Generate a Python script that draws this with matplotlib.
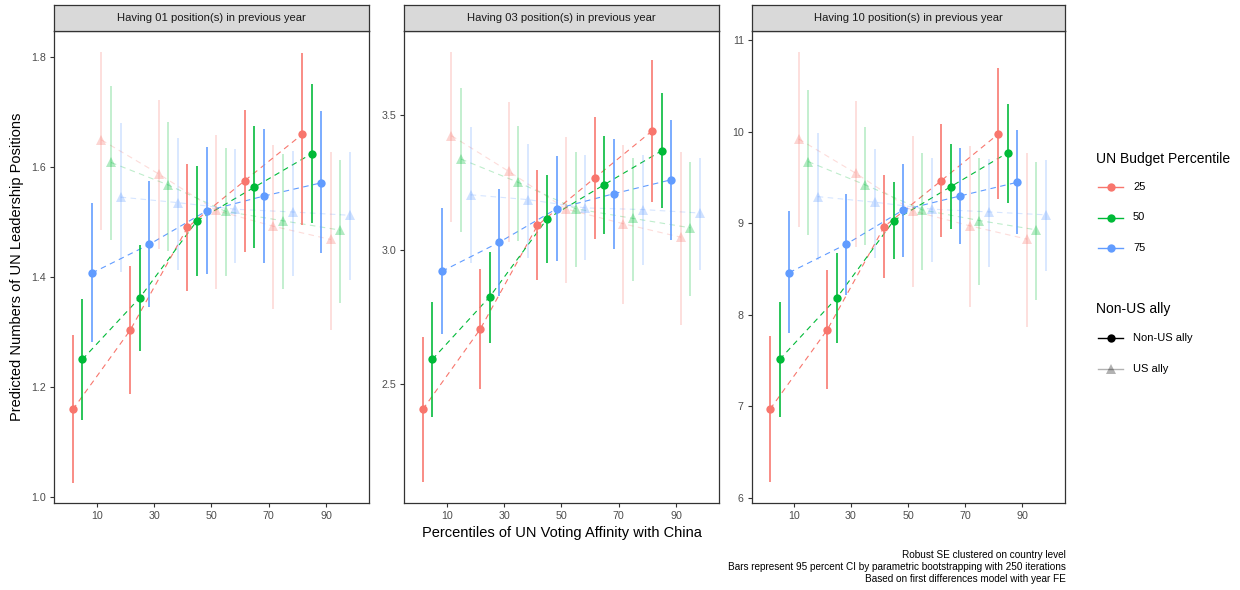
import numpy as np
import matplotlib
matplotlib.use("Agg")
import matplotlib.pyplot as plt
from matplotlib.lines import Line2D

plt.rcParams['font.family'] = ['Liberation Sans', 'DejaVu Sans']

# ---------------- data ----------------
budget_levels = ["25", "50", "75"]
affinity = [10, 30, 50, 70, 90]
x_ticks = [10, 30, 50, 70, 90]
panel_titles = ["Having 01 position(s) in previous year",
                "Having 03 position(s) in previous year",
                "Having 10 position(s) in previous year"]
ally_levels = ["Non-US ally", "US ally"]

# rows: budget 25, 50, 75 ; columns: affinity 10..90
p1_non_est = [[1.159, 1.303, 1.490, 1.575, 1.659],
              [1.250, 1.362, 1.502, 1.563, 1.624],
              [1.407, 1.459, 1.520, 1.547, 1.571]]
p1_non_lo = [[1.026, 1.188, 1.375, 1.445, 1.494],
             [1.139, 1.265, 1.401, 1.452, 1.498],
             [1.282, 1.345, 1.405, 1.425, 1.443]]
p1_non_hi = [[1.294, 1.420, 1.606, 1.703, 1.807],
             [1.359, 1.458, 1.602, 1.674, 1.750],
             [1.535, 1.574, 1.636, 1.668, 1.701]]
p1_us_est = [[1.649, 1.587, 1.521, 1.492, 1.468],
             [1.608, 1.567, 1.519, 1.502, 1.485],
             [1.545, 1.535, 1.523, 1.518, 1.512]]
p1_us_lo = [[1.486, 1.450, 1.378, 1.341, 1.304],
            [1.467, 1.447, 1.401, 1.378, 1.352],
            [1.409, 1.413, 1.425, 1.401, 1.395]]
p1_us_hi = [[1.809, 1.721, 1.658, 1.639, 1.627],
            [1.747, 1.682, 1.635, 1.623, 1.613],
            [1.680, 1.653, 1.633, 1.629, 1.627]]

p2_non_est = [[2.405, 2.703, 3.090, 3.267, 3.442],
              [2.591, 2.824, 3.114, 3.242, 3.368],
              [2.919, 3.027, 3.152, 3.208, 3.260]]
p2_non_lo = [[2.136, 2.482, 2.885, 3.040, 3.176],
             [2.378, 2.653, 2.950, 3.058, 3.155],
             [2.684, 2.826, 2.957, 3.003, 3.037]]
p2_non_hi = [[2.674, 2.926, 3.297, 3.493, 3.706],
             [2.804, 2.991, 3.276, 3.424, 3.583],
             [3.155, 3.227, 3.349, 3.411, 3.483]]
p2_us_est = [[3.424, 3.291, 3.151, 3.096, 3.046],
             [3.337, 3.250, 3.152, 3.116, 3.081],
             [3.204, 3.186, 3.155, 3.149, 3.136]]
p2_us_lo = [[3.101, 3.027, 2.874, 2.799, 2.719],
            [3.066, 3.031, 2.936, 2.882, 2.826],
            [2.950, 2.969, 2.960, 2.941, 2.922]]
p2_us_hi = [[3.737, 3.551, 3.421, 3.388, 3.362],
            [3.601, 3.461, 3.363, 3.341, 3.326],
            [3.455, 3.393, 3.351, 3.351, 3.341]]

p3_non_est = [[6.972, 7.836, 8.963, 9.465, 9.974],
              [7.513, 8.185, 9.029, 9.399, 9.770],
              [8.461, 8.771, 9.145, 9.298, 9.447]]
p3_non_lo = [[6.176, 7.190, 8.400, 8.854, 9.262],
             [6.885, 7.698, 8.607, 8.935, 9.225],
             [7.800, 8.218, 8.636, 8.771, 8.877]]
p3_non_hi = [[7.771, 8.491, 9.527, 10.080, 10.690],
             [8.138, 8.673, 9.447, 9.862, 10.305],
             [9.134, 9.320, 9.647, 9.824, 10.019]]
p3_us_est = [[9.919, 9.545, 9.134, 8.971, 8.826],
             [9.672, 9.418, 9.145, 9.029, 8.927],
             [9.290, 9.229, 9.153, 9.123, 9.091]]
p3_us_lo = [[8.956, 8.738, 8.309, 8.084, 7.862],
            [8.872, 8.763, 8.491, 8.327, 8.163],
            [8.600, 8.618, 8.575, 8.527, 8.473]]
p3_us_hi = [[10.871, 10.337, 9.952, 9.847, 9.770],
            [10.454, 10.053, 9.770, 9.709, 9.665],
            [9.981, 9.810, 9.709, 9.698, 9.690]]

y_ticks = [[1.0, 1.2, 1.4, 1.6, 1.8], [2.5, 3.0, 3.5], [6, 7, 8, 9, 10, 11]]
y_ticklabels = [["1.0", "1.2", "1.4", "1.6", "1.8"], ["2.5", "3.0", "3.5"],
                ["6", "7", "8", "9", "10", "11"]]
y_limits = [(0.989, 1.847), (2.056, 3.814), (5.947, 11.097)]

captions = ["Robust SE clustered on country level",
            "Bars represent 95 percent CI by parametric bootstrapping with 250 iterations",
            "Based on first differences model with year FE"]

panels = [
    (p1_non_est, p1_non_lo, p1_non_hi, p1_us_est, p1_us_lo, p1_us_hi),
    (p2_non_est, p2_non_lo, p2_non_hi, p2_us_est, p2_us_lo, p2_us_hi),
    (p3_non_est, p3_non_lo, p3_non_hi, p3_us_est, p3_us_lo, p3_us_hi),
]

# ---------------- style ----------------
colors = ["#F8766D", "#00BA38", "#619CFF"]
W, H = 1240, 590
fig = plt.figure(figsize=(W / 100, H / 100), dpi=100)

def fx(px):
    return px / W

def fy(py):
    return 1 - py / H

panel_lr = [(54.3, 369.0), (404.3, 719.0), (751.7, 1065.0)]
p_top, p_bot = 31.0, 503.0
s_top = 5.0

dodge_w = 20.0
n_groups = 6
offsets = (np.arange(n_groups) - (n_groups - 1) / 2) * dodge_w / n_groups
edge = "#333333"
dash = (5, 4)

for k, (l, r) in enumerate(panel_lr):
    ax = fig.add_axes([fx(l), fy(p_bot), fx(r) - fx(l), fy(p_top) - fy(p_bot)])
    non_est, non_lo, non_hi, us_est, us_lo, us_hi = panels[k]
    for ally_i, (est, lo, hi) in enumerate([(non_est, non_lo, non_hi),
                                             (us_est, us_lo, us_hi)]):
        alpha = 1.0 if ally_i == 0 else 0.3
        marker = "o" if ally_i == 0 else "^"
        ms = 6.0 if ally_i == 0 else 7.0
        for b in range(3):
            g = ally_i * 3 + b
            xs = np.array(affinity) + offsets[g]
            e = np.array(est[b]); lo_ = np.array(lo[b]); hi_ = np.array(hi[b])
            ax.plot(xs, e, color=colors[b], lw=0.8, linestyle=(0, dash),
                    alpha=alpha * (1.0 if ally_i == 0 else 0.85), zorder=2)
            ax.vlines(xs, lo_, hi_, color=colors[b], lw=1.3,
                      alpha=alpha * (0.9 if ally_i == 0 else 0.85), zorder=3)
            ax.plot(xs, e, linestyle="none", marker=marker, ms=ms,
                    color=colors[b], alpha=alpha, markeredgewidth=0, zorder=4)
    ax.set_xlim(-4.8, 105)
    ax.set_ylim(*y_limits[k])
    ax.set_xticks(x_ticks)
    ax.set_xticklabels([str(t) for t in x_ticks])
    ax.set_yticks(y_ticks[k])
    ax.set_yticklabels(y_ticklabels[k])
    ax.tick_params(axis="both", length=3.2, width=0.8, color=edge,
                   labelsize=7.7, labelcolor="#4D4D4D", pad=2.5)
    for sp in ax.spines.values():
        sp.set_color(edge)
        sp.set_linewidth(0.9)
    # strip
    sax = fig.add_axes([fx(l), fy(p_top), fx(r) - fx(l), fy(s_top) - fy(p_top)])
    sax.set_facecolor("#D9D9D9")
    sax.set_xticks([]); sax.set_yticks([])
    for sp in sax.spines.values():
        sp.set_color(edge)
        sp.set_linewidth(0.9)
    sax.text(0.5, 0.5, panel_titles[k], ha="center", va="center",
             fontsize=8.1, color="#1A1A1A", transform=sax.transAxes)

# axis titles
fig.text(fx(561.5), fy(533), "Percentiles of UN Voting Affinity with China",
         ha="center", va="center", fontsize=10.5, color="black")
fig.text(fx(17), fy(267), "Predicted Numbers of UN Leadership Positions",
         ha="center", va="center", rotation=90, fontsize=10.5, color="black")

# legend (manual)
def key(yc, color, marker, alpha, ms):
    fig.add_artist(Line2D([fx(1098), fx(1123)], [fy(yc), fy(yc)], color=color,
                          lw=1.0, alpha=alpha, transform=fig.transFigure))
    fig.add_artist(Line2D([fx(1110.5)], [fy(yc)], marker=marker, ms=ms,
                          color=color, alpha=alpha, markeredgewidth=0,
                          linestyle="none", transform=fig.transFigure))

fig.text(fx(1096), fy(159), "UN Budget Percentile", ha="left", va="center",
         fontsize=10.0, color="black")
for i, lab in enumerate(budget_levels):
    yc = 187 + i * 30.5
    key(yc, colors[i], "o", 1.0, 6.0)
    fig.text(fx(1133), fy(yc), lab, ha="left", va="center", fontsize=8.0)

fig.text(fx(1096), fy(309), "Non-US ally", ha="left", va="center",
         fontsize=10.0, color="black")
key(338, "black", "o", 1.0, 6.0)
fig.text(fx(1133), fy(338), ally_levels[0], ha="left", va="center", fontsize=8.0)
key(369, "black", "^", 0.3, 7.0)
fig.text(fx(1133), fy(369), ally_levels[1], ha="left", va="center", fontsize=8.0)

# captions
for i, c in enumerate(captions):
    fig.text(fx(1066), fy(555 + i * 11.8), c, ha="right", va="center",
             fontsize=7.2, color="black")

fig.savefig("out.png", dpi=100)
